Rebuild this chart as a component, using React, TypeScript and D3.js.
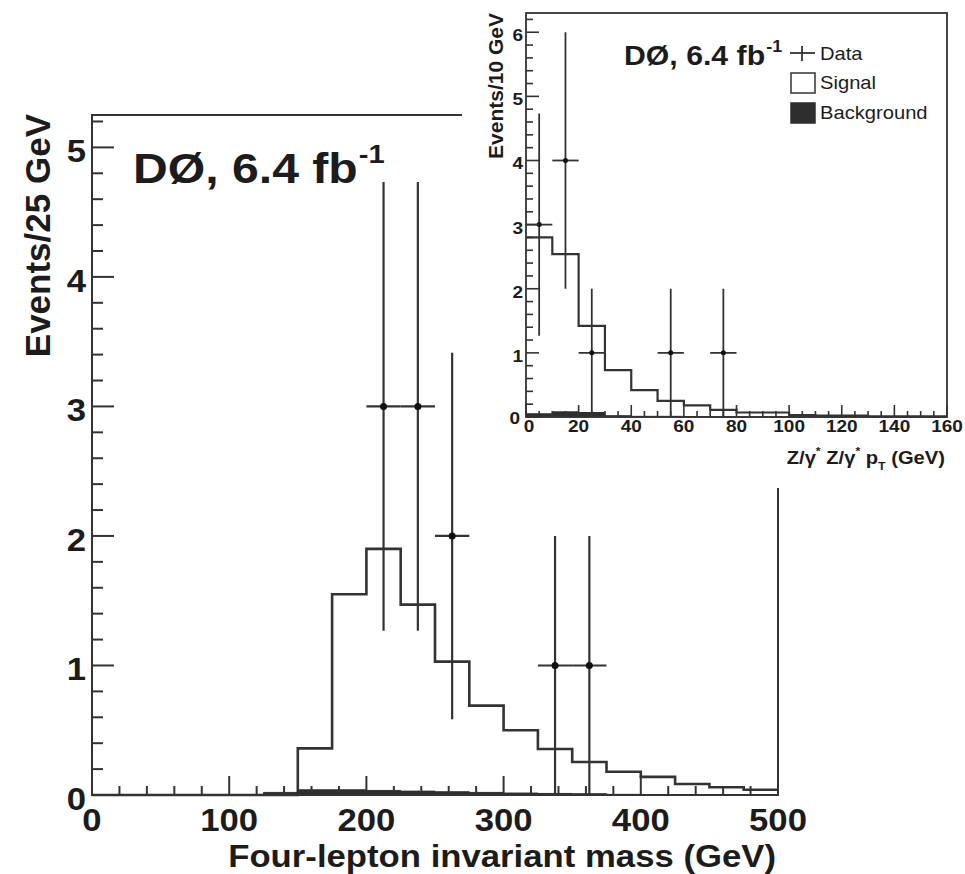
import React from "react";
import * as d3 from "d3";

// ---------- Main plot data (four-lepton invariant mass, 25 GeV bins) ----------
const massBinEdges = [0, 25, 50, 75, 100, 125, 150, 175, 200, 225, 250, 275, 300, 325, 350, 375, 400, 425, 450, 475, 500];
const massSignal = [0, 0, 0, 0, 0, 0, 0.36, 1.55, 1.9, 1.47, 1.03, 0.69, 0.5, 0.355, 0.255, 0.18, 0.14, 0.085, 0.06, 0.04];
const massBackground = [0, 0, 0, 0, 0, 0.02, 0.04, 0.04, 0.035, 0.03, 0.025, 0.02, 0.015, 0.012, 0.01, 0.005, 0, 0, 0, 0];
const massDataX = [212.5, 237.5, 262.5, 337.5, 362.5];
const massDataY = [3, 3, 2, 1, 1];
const massTicks = [0, 100, 200, 300, 400, 500];
const massEventTicks = [0, 1, 2, 3, 4, 5];

// ---------- Inset data (Z/γ* Z/γ* pT, 10 GeV bins) ----------
const ptBinEdges = [0, 10, 20, 30, 40, 50, 60, 70, 80, 90, 100, 110, 120, 130, 140, 150, 160];
const ptSignal = [2.8, 2.54, 1.42, 0.73, 0.42, 0.25, 0.18, 0.11, 0.07, 0.07, 0.03, 0.02, 0.02, 0.01, 0.01, 0.01];
const ptBackground = [0.05, 0.08, 0.07, 0.02, 0.01, 0.01, 0.005, 0, 0, 0, 0, 0, 0, 0, 0, 0];
const ptDataX = [5, 15, 25, 55, 75];
const ptDataY = [3, 4, 1, 1, 1];
const ptTicks = [0, 20, 40, 60, 80, 100, 120, 140, 160];
const ptEventTicks = [0, 1, 2, 3, 4, 5, 6];

const FONT = "'Liberation Sans', Arial, Helvetica, sans-serif";
const INK = "#1c1c1c";
const LINE = "#333";
const SX = 1.12;

function T(props: any) {
  const { x, y, size, anchor = "start", weight = "bold", sx = SX, rotate = 0, children } = props;
  const tr = rotate
    ? `translate(${x},${y}) rotate(${rotate})`
    : `translate(${x},${y}) scale(${sx},1)`;
  return (
    <text transform={tr} fontSize={size} fontWeight={weight} textAnchor={anchor} fontFamily={FONT} fill={INK}>
      {children}
    </text>
  );
}

function stepPoints(edges: number[], vals: number[]) {
  const pts: [number, number][] = vals.map((v, i) => [edges[i], v]);
  pts.push([edges[edges.length - 1], vals[vals.length - 1]]);
  return pts;
}

function Histo(props: any) {
  const { x, y, edges, signal, background, dataX, dataY, halfW, lw, elw, dotR } = props;
  const line = d3
    .line<[number, number]>()
    .x((d) => x(d[0]))
    .y((d) => y(d[1]))
    .curve(d3.curveStepAfter);
  const area = d3
    .area<[number, number]>()
    .x((d) => x(d[0]))
    .y0(y(0))
    .y1((d) => y(d[1]))
    .curve(d3.curveStepAfter);
  const sig = stepPoints(edges, signal);
  const bkg = stepPoints(edges, background);
  return (
    <g>
      <path d={line(sig) || ""} fill="none" stroke={LINE} strokeWidth={lw} />
      <path d={area(bkg) || ""} fill="#2e2e2e" stroke="#2e2e2e" strokeWidth={1} />
      {dataX.map((cx: number, i: number) => {
        const v = dataY[i];
        const e = Math.sqrt(v);
        return (
          <g key={i}>
            <line x1={x(cx)} x2={x(cx)} y1={y(v + e)} y2={y(Math.max(0, v - e))} stroke={LINE} strokeWidth={elw} />
            <line x1={x(cx - halfW)} x2={x(cx + halfW)} y1={y(v)} y2={y(v)} stroke={LINE} strokeWidth={elw} />
            <circle cx={x(cx)} cy={y(v)} r={dotR} fill="#111" />
          </g>
        );
      })}
    </g>
  );
}

export default function App() {
  // main scales
  const xM = d3.scaleLinear().domain([0, 500]).range([92, 778]);
  const yM = d3.scaleLinear().domain([0, 5.25]).range([795, 115]);
  // inset scales
  const xI = d3.scaleLinear().domain([0, 160]).range([526, 947]);
  const yI = d3.scaleLinear().domain([0, 6.3]).range([417, 13]);

  const mXMinor = d3.range(0, 501, 20).filter((v) => v % 100 !== 0);
  const mYMinor = d3.range(0, 5.21, 0.2).filter((v) => Math.abs(v - Math.round(v)) > 1e-6);
  const iXMinor = d3.range(0, 161, 5).filter((v) => v % 20 !== 0);
  const iYMinor = d3.range(0, 6.21, 0.2).filter((v) => Math.abs(v - Math.round(v)) > 1e-6);

  return (
    <svg width={965} height={874} style={{ position: "absolute", left: 0, top: 0, background: "#fff" }}>
      <rect x={0} y={0} width={965} height={874} fill="#fff" />

      {/* ---------------- Main plot ---------------- */}
      <Histo
        x={xM}
        y={yM}
        edges={massBinEdges}
        signal={massSignal}
        background={massBackground}
        dataX={massDataX}
        dataY={massDataY}
        halfW={12.5}
        lw={2.6}
        elw={2.2}
        dotR={3.5}
      />
      {/* frame */}
      <rect x={xM(0)} y={yM(5.25)} width={xM(500) - xM(0)} height={yM(0) - yM(5.25)} fill="none" stroke={LINE} strokeWidth={2} />
      {/* x ticks */}
      {massTicks.map((t) => (
        <line key={"mx" + t} x1={xM(t)} x2={xM(t)} y1={yM(0)} y2={yM(0) - 19} stroke={LINE} strokeWidth={2} />
      ))}
      {mXMinor.map((t) => (
        <line key={"mxm" + t} x1={xM(t)} x2={xM(t)} y1={yM(0)} y2={yM(0) - 9} stroke={LINE} strokeWidth={2} />
      ))}
      {/* y ticks */}
      {massEventTicks.map((t) => (
        <line key={"my" + t} x1={xM(0)} x2={xM(0) + 22} y1={yM(t)} y2={yM(t)} stroke={LINE} strokeWidth={2} />
      ))}
      {mYMinor.map((t) => (
        <line key={"mym" + t} x1={xM(0)} x2={xM(0) + 11} y1={yM(t)} y2={yM(t)} stroke={LINE} strokeWidth={2} />
      ))}
      {/* tick labels */}
      {massTicks.map((t) => (
        <T key={"mxl" + t} x={xM(t)} y={831} size={31} anchor="middle">
          {t}
        </T>
      ))}
      {massEventTicks.map((t) => (
        <T key={"myl" + t} x={86} y={yM(t) + 15} size={31} anchor="end">
          {t}
        </T>
      ))}
      {/* axis titles */}
      <T x={776} y={867} size={31} anchor="end">
        Four-lepton invariant mass (GeV)
      </T>
      <T x={50} y={114} size={35} anchor="end" rotate={-90}>
        Events/25 GeV
      </T>
      {/* label */}
      <T x={133} y={183} size={43} anchor="start">
        DØ, 6.4 fb
        <tspan fontSize={26} dy={-20} dx={1}>-1</tspan>
      </T>

      {/* ---------------- Inset pad ---------------- */}
      <rect x={462} y={0} width={503} height={488} fill="#fff" />
      <Histo
        x={xI}
        y={yI}
        edges={ptBinEdges}
        signal={ptSignal}
        background={ptBackground}
        dataX={ptDataX}
        dataY={ptDataY}
        halfW={5}
        lw={2.2}
        elw={1.8}
        dotR={2.5}
      />
      <rect x={xI(0)} y={yI(6.3)} width={xI(160) - xI(0)} height={yI(0) - yI(6.3)} fill="none" stroke={LINE} strokeWidth={1.8} />
      {ptTicks.map((t) => (
        <line key={"ix" + t} x1={xI(t)} x2={xI(t)} y1={yI(0)} y2={yI(0) - 12} stroke={LINE} strokeWidth={1.6} />
      ))}
      {iXMinor.map((t) => (
        <line key={"ixm" + t} x1={xI(t)} x2={xI(t)} y1={yI(0)} y2={yI(0) - 6} stroke={LINE} strokeWidth={1.6} />
      ))}
      {ptEventTicks.map((t) => (
        <line key={"iy" + t} x1={xI(0)} x2={xI(0) + 13} y1={yI(t)} y2={yI(t)} stroke={LINE} strokeWidth={1.6} />
      ))}
      {iYMinor.map((t) => (
        <line key={"iym" + t} x1={xI(0)} x2={xI(0) + 7} y1={yI(t)} y2={yI(t)} stroke={LINE} strokeWidth={1.6} />
      ))}
      {ptTicks.map((t) => (
        <T key={"ixl" + t} x={xI(t) + (t === 0 ? 3 : 0)} y={432} size={17} anchor="middle">
          {t}
        </T>
      ))}
      {ptEventTicks.map((t) => (
        <T key={"iyl" + t} x={t === 0 ? 520 : 523} y={yI(t) + (t === 0 ? 7 : 9)} size={17} anchor="end">
          {t}
        </T>
      ))}
      <T x={945} y={464} size={18} anchor="end">
        Z/γ<tspan fontSize={11} dy={-9}>*</tspan>
        <tspan dy={9}> Z/γ</tspan>
        <tspan fontSize={11} dy={-9}>*</tspan>
        <tspan dy={9}> p</tspan>
        <tspan fontSize={11} dy={6}>T</tspan>
        <tspan dy={-6}> (GeV)</tspan>
      </T>
      <T x={503} y={13} size={21} anchor="end" rotate={-90}>
        Events/10 GeV
      </T>
      {/* inset label */}
      <T x={624} y={65} size={27} anchor="start">
        DØ, 6.4 fb
        <tspan fontSize={16} dy={-13} dx={1}>-1</tspan>
      </T>
      {/* legend */}
      <line x1={790} x2={815} y1={53} y2={53} stroke={LINE} strokeWidth={1.8} />
      <line x1={802} x2={802} y1={46} y2={61} stroke={LINE} strokeWidth={1.8} />
      <T x={820} y={60} size={18} weight="normal">
        Data
      </T>
      <rect x={791} y={73} width={24} height={20} fill="#fff" stroke={LINE} strokeWidth={1.5} />
      <T x={820} y={89} size={18} weight="normal">
        Signal
      </T>
      <rect x={791} y={103} width={24} height={20} fill="#2e2e2e" stroke="#2e2e2e" strokeWidth={1.5} />
      <T x={820} y={119} size={18} weight="normal">
        Background
      </T>
    </svg>
  );
}
